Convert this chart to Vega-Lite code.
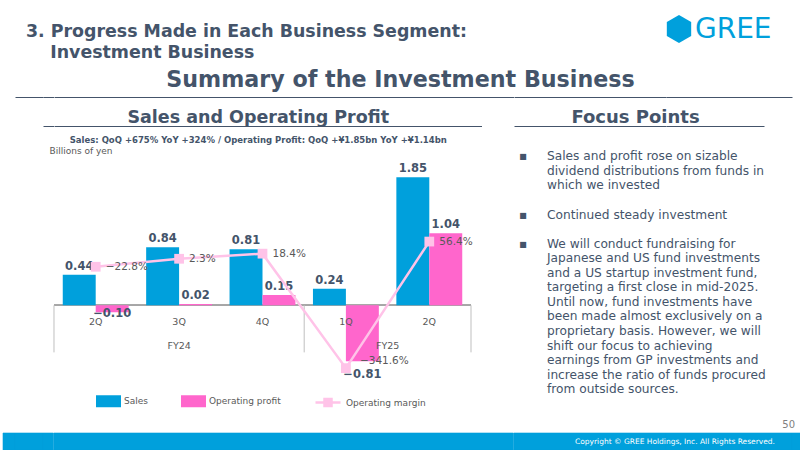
{
  "$schema": "https://vega.github.io/schema/vega-lite/v6.json",
  "background": "#ffffff",
  "padding": 0,
  "config": {"view": {"stroke": null}, "font": "DejaVu Sans"},
  "datasets": {
    "q": [
      {"period": "FY24 2Q", "quarter": "2Q", "fy": "FY24", "Sales": 0.44, "Operating profit": -0.10, "Operating margin": -0.228},
      {"period": "FY24 3Q", "quarter": "3Q", "fy": "FY24", "Sales": 0.84, "Operating profit": 0.02, "Operating margin": 0.023},
      {"period": "FY24 4Q", "quarter": "4Q", "fy": "FY24", "Sales": 0.81, "Operating profit": 0.15, "Operating margin": 0.184},
      {"period": "FY25 1Q", "quarter": "1Q", "fy": "FY25", "Sales": 0.24, "Operating profit": -0.81, "Operating margin": -3.416},
      {"period": "FY25 2Q", "quarter": "2Q", "fy": "FY25", "Sales": 1.85, "Operating profit": 1.04, "Operating margin": 0.564}
    ],
    "blank": [{"v": 0}],
    "full": [{"v": 1}]
  },
  "columns": 7,
  "spacing": 0,
  "bounds": "flush",
  "align": "each",
  "concat": [
    {"width": 1, "height": 10, "data": {"name": "blank"}, "mark": {"type": "point", "opacity": 0}, "encoding": {"x": {"field": "v", "type": "quantitative", "axis": null}}},
    {
      "width": 28, "height": 62, "data": {"name": "blank"}, "mark": {"type": "point", "opacity": 0},
      "encoding": {"x": {"field": "v", "type": "quantitative", "axis": null}},
      "title": {
        "text": ["3. Progress Made in Each Business Segment:", "\u200b\u00a0\u00a0\u00a0\u00a0Investment Business"],
        "orient": "top", "offset": 0, "baseline": "top", "frame": "group", "anchor": "start",
        "dx": 11, "dy": 61.2, "lineHeight": 21,
        "font": "DejaVu Sans", "fontSize": 17.4, "fontWeight": "bold", "color": "#44546a"
      }
    },
    {"width": 1, "height": 10, "data": {"name": "blank"}, "mark": {"type": "point", "opacity": 0}, "encoding": {"x": {"field": "v", "type": "quantitative", "axis": null}}},
    {"width": 1, "height": 10, "data": {"name": "blank"}, "mark": {"type": "point", "opacity": 0}, "encoding": {"x": {"field": "v", "type": "quantitative", "axis": null}}},
    {"width": 1, "height": 10, "data": {"name": "blank"}, "mark": {"type": "point", "opacity": 0}, "encoding": {"x": {"field": "v", "type": "quantitative", "axis": null}}},
    {
      "width": 26, "height": 58, "data": {"name": "blank"},
      "mark": {"type": "point", "shape": "M0,-1L0.87,-0.5L0.87,0.5L0,1L-0.87,0.5L-0.87,-0.5Z", "size": 784, "filled": true, "opacity": 1, "color": "#00a0dc"},
      "encoding": {"x": {"field": "v", "type": "quantitative", "scale": {"domain": [-1, 1]}, "axis": null}},
      "title": {
        "text": "GREE",
        "orient": "top", "offset": 0, "baseline": "top", "frame": "group", "anchor": "start",
        "dx": 29, "dy": 44.2,
        "font": "DejaVu Sans", "fontSize": 28, "fontWeight": "normal", "color": "#00a0dc"
      }
    },
    {"width": 1, "height": 10, "data": {"name": "blank"}, "mark": {"type": "point", "opacity": 0}, "encoding": {"x": {"field": "v", "type": "quantitative", "axis": null}}},

    {"width": 1, "height": 10, "data": {"name": "blank"}, "mark": {"type": "point", "opacity": 0}, "encoding": {"x": {"field": "v", "type": "quantitative", "axis": null}}},
    {"width": 28, "height": 35, "data": {"name": "blank"}, "mark": {"type": "point", "opacity": 0}, "encoding": {"x": {"field": "v", "type": "quantitative", "scale": {"domain": [0, 1]}, "axis": {"title": null, "labels": false, "ticks": false, "grid": false, "domainColor": "#44546a", "domainWidth": 1}}}},
    {"width": 10.5, "height": 35, "data": {"name": "blank"}, "mark": {"type": "point", "opacity": 0}, "encoding": {"x": {"field": "v", "type": "quantitative", "scale": {"domain": [0, 1]}, "axis": {"title": null, "labels": false, "ticks": false, "grid": false, "domainColor": "#44546a", "domainWidth": 1}}}},
    {
      "width": 459.5, "height": 35, "data": {"name": "blank"}, "mark": {"type": "point", "opacity": 0},
      "encoding": {"x": {"field": "v", "type": "quantitative", "scale": {"domain": [0, 1]}, "axis": {"title": null, "labels": false, "ticks": false, "grid": false, "domainColor": "#44546a", "domainWidth": 1}}},
      "title": {
        "text": "Summary of the Investment Business",
        "orient": "top", "offset": 0, "baseline": "top", "frame": "group", "anchor": "middle",
        "dx": 116.75, "dy": 29.3,
        "font": "DejaVu Sans", "fontSize": 22.2, "fontWeight": "bold", "color": "#44546a"
      }
    },
    {"width": 152, "height": 35, "data": {"name": "blank"}, "mark": {"type": "point", "opacity": 0}, "encoding": {"x": {"field": "v", "type": "quantitative", "scale": {"domain": [0, 1]}, "axis": {"title": null, "labels": false, "ticks": false, "grid": false, "domainColor": "#44546a", "domainWidth": 1}}}},
    {"width": 126, "height": 35, "data": {"name": "blank"}, "mark": {"type": "point", "opacity": 0}, "encoding": {"x": {"field": "v", "type": "quantitative", "scale": {"domain": [0, 1]}, "axis": {"title": null, "labels": false, "ticks": false, "grid": false, "domainColor": "#44546a", "domainWidth": 1}}}},
    {"width": 1, "height": 10, "data": {"name": "blank"}, "mark": {"type": "point", "opacity": 0}, "encoding": {"x": {"field": "v", "type": "quantitative", "axis": null}}},

    {"width": 1, "height": 10, "data": {"name": "blank"}, "mark": {"type": "point", "opacity": 0}, "encoding": {"x": {"field": "v", "type": "quantitative", "axis": null}}},
    {"width": 1, "height": 10, "data": {"name": "blank"}, "mark": {"type": "point", "opacity": 0}, "encoding": {"x": {"field": "v", "type": "quantitative", "axis": null}}},
    {"width": 10.5, "height": 29, "data": {"name": "blank"}, "mark": {"type": "point", "opacity": 0}, "encoding": {"x": {"field": "v", "type": "quantitative", "scale": {"domain": [0, 1]}, "axis": {"title": null, "labels": false, "ticks": false, "grid": false, "domainColor": "#44546a", "domainWidth": 1}}}},
    {
      "width": 427.5, "height": 29, "data": {"name": "blank"}, "mark": {"type": "point", "opacity": 0},
      "encoding": {"x": {"field": "v", "type": "quantitative", "scale": {"domain": [0, 1]}, "axis": {"title": null, "labels": false, "ticks": false, "grid": false, "domainColor": "#44546a", "domainWidth": 1}}},
      "title": {
        "text": "Sales and Operating Profit",
        "subtitle": "Sales: QoQ +675% YoY +324% / Operating Profit: QoQ +¥1.85bn YoY +¥1.14bn",
        "orient": "top", "offset": 0, "baseline": "top", "frame": "group", "anchor": "middle",
        "dx": -9.5, "dy": 47.2,
        "font": "DejaVu Sans", "fontSize": 17.5, "fontWeight": "bold", "color": "#44546a",
        "subtitleFont": "DejaVu Sans", "subtitleFontSize": 8.5, "subtitleFontWeight": "bold",
        "subtitleColor": "#44546a", "subtitlePadding": 9.4
      }
    },
    {
      "width": 152, "height": 29, "data": {"name": "blank"}, "mark": {"type": "point", "opacity": 0},
      "encoding": {"x": {"field": "v", "type": "quantitative", "scale": {"domain": [0, 1]}, "axis": {"title": null, "labels": false, "ticks": false, "grid": false, "domainColor": "#44546a", "domainWidth": 1}}},
      "title": {
        "text": "Focus Points",
        "orient": "top", "offset": 0, "baseline": "top", "frame": "group", "anchor": "middle",
        "dx": 45.5, "dy": 29.8,
        "font": "DejaVu Sans", "fontSize": 18, "fontWeight": "bold", "color": "#44546a"
      }
    },
    {"width": 98, "height": 29, "data": {"name": "blank"}, "mark": {"type": "point", "opacity": 0}, "encoding": {"x": {"field": "v", "type": "quantitative", "scale": {"domain": [0, 1]}, "axis": {"title": null, "labels": false, "ticks": false, "grid": false, "domainColor": "#44546a", "domainWidth": 1}}}},
    {"width": 1, "height": 10, "data": {"name": "blank"}, "mark": {"type": "point", "opacity": 0}, "encoding": {"x": {"field": "v", "type": "quantitative", "axis": null}}},

    {"width": 1, "height": 10, "data": {"name": "blank"}, "mark": {"type": "point", "opacity": 0}, "encoding": {"x": {"field": "v", "type": "quantitative", "axis": null}}},
    {"width": 1, "height": 10, "data": {"name": "blank"}, "mark": {"type": "point", "opacity": 0}, "encoding": {"x": {"field": "v", "type": "quantitative", "axis": null}}},
    {"width": 1, "height": 10, "data": {"name": "blank"}, "mark": {"type": "point", "opacity": 0}, "encoding": {"x": {"field": "v", "type": "quantitative", "axis": null}}},
    {
      "width": 417, "height": 249,
      "data": {"name": "q"},
      "title": {
        "text": "Billions of yen",
        "orient": "top", "offset": 0, "baseline": "top", "frame": "group", "anchor": "start",
        "dx": -4.5, "dy": 29.9,
        "font": "DejaVu Sans", "fontSize": 9, "fontWeight": "normal", "color": "#595959"
      },
      "layer": [
        {
          "mark": {"type": "rule", "color": "#a6a6a6", "strokeWidth": 1.5},
          "encoding": {
            "y": {"datum": 0, "type": "quantitative", "scale": {"domain": [-1.007, 2.591], "nice": false, "zero": false}, "axis": null}
          }
        },
        {
          "transform": [{"filter": {"field": "period", "oneOf": ["FY24 2Q", "FY25 1Q"]}}],
          "mark": {"type": "rule", "color": "#bfbfbf", "strokeWidth": 1},
          "encoding": {
            "x": {"field": "period", "type": "nominal", "sort": null, "bandPosition": -0.133,
                  "scale": {"type": "band", "domain": ["FY24 2Q", "FY24 3Q", "FY24 4Q", "FY25 1Q", "FY25 2Q"], "paddingInner": 0.21, "paddingOuter": 0.105},
                  "axis": null},
            "y": {"datum": 0, "type": "quantitative", "scale": {"domain": [-1.007, 2.591], "nice": false, "zero": false}, "axis": null},
            "y2": {"datum": -0.68}
          }
        },
        {
          "transform": [{"filter": {"field": "period", "equal": "FY25 2Q"}}],
          "mark": {"type": "rule", "color": "#bfbfbf", "strokeWidth": 1},
          "encoding": {
            "x": {"field": "period", "type": "nominal", "sort": null, "bandPosition": 1.133, "axis": null},
            "y": {"datum": 0, "type": "quantitative", "scale": {"domain": [-1.007, 2.591], "nice": false, "zero": false}, "axis": null},
            "y2": {"datum": -0.68}
          }
        },
        {
          "transform": [{"fold": ["Sales", "Operating profit"], "as": ["series", "value"]}],
          "mark": {"type": "bar"},
          "encoding": {
            "x": {"field": "period", "type": "nominal", "sort": null, "axis": null},
            "xOffset": {"field": "series", "type": "nominal",
                        "scale": {"domain": ["Sales", "Operating profit"], "paddingInner": 0, "paddingOuter": 0}},
            "y": {"field": "value", "type": "quantitative", "scale": {"domain": [-1.007, 2.591], "nice": false, "zero": false}, "axis": null},
            "fill": {
              "field": "series", "type": "nominal",
              "scale": {"domain": ["Sales", "Operating profit"], "range": ["#00a0dc", "#ff66cc"]},
              "legend": {
                "orient": "none", "legendX": 93, "legendY": 388.5,
                "direction": "horizontal", "title": null,
                "padding": 0, "columnPadding": 33,
                "symbolSize": 625, "symbolType": "M-1,-0.48H1V0.48H-1Z", "symbolStrokeWidth": 0,
                "labelFont": "DejaVu Sans", "labelFontSize": 9, "labelColor": "#595959", "labelOffset": 3
              }
            }
          }
        },
        {
          "transform": [{"fold": ["Sales", "Operating profit"], "as": ["series", "value"]}, {"filter": "datum.series === 'Sales' || datum.value >= 0"}],
          "mark": {"type": "text", "baseline": "bottom", "dy": -3, "font": "DejaVu Sans", "fontSize": 11.5, "fontWeight": "bold", "color": "#44546a"},
          "encoding": {
            "x": {"field": "period", "type": "nominal", "sort": null, "axis": null},
            "xOffset": {"field": "series", "type": "nominal"},
            "y": {"field": "value", "type": "quantitative", "scale": {"domain": [-1.007, 2.591], "nice": false, "zero": false}, "axis": null},
            "text": {"field": "value", "type": "quantitative", "format": ".2f"}
          }
        },
        {
          "transform": [{"fold": ["Sales", "Operating profit"], "as": ["series", "value"]}, {"filter": "datum.series === 'Operating profit' && datum.value < 0 && datum.value > -0.5"}],
          "mark": {"type": "text", "baseline": "top", "dy": -4, "font": "DejaVu Sans", "fontSize": 11.5, "fontWeight": "bold", "color": "#44546a"},
          "encoding": {
            "x": {"field": "period", "type": "nominal", "sort": null, "axis": null},
            "xOffset": {"field": "series", "type": "nominal"},
            "y": {"field": "value", "type": "quantitative", "scale": {"domain": [-1.007, 2.591], "nice": false, "zero": false}, "axis": null},
            "text": {"field": "value", "type": "quantitative", "format": ".2f"}
          }
        },
        {
          "transform": [{"fold": ["Sales", "Operating profit"], "as": ["series", "value"]}, {"filter": "datum.series === 'Operating profit' && datum.value <= -0.5"}],
          "mark": {"type": "text", "baseline": "top", "dy": 8, "font": "DejaVu Sans", "fontSize": 11.5, "fontWeight": "bold", "color": "#44546a"},
          "encoding": {
            "x": {"field": "period", "type": "nominal", "sort": null, "axis": null},
            "xOffset": {"field": "series", "type": "nominal"},
            "y": {"field": "value", "type": "quantitative", "scale": {"domain": [-1.007, 2.591], "nice": false, "zero": false}, "axis": null},
            "text": {"field": "value", "type": "quantitative", "format": ".2f"}
          }
        },
        {
          "mark": {"type": "text", "baseline": "alphabetic", "dy": 20, "font": "DejaVu Sans", "fontSize": 9.5, "color": "#595959"},
          "encoding": {
            "x": {"field": "period", "type": "nominal", "sort": null, "axis": null},
            "y": {"datum": 0, "type": "quantitative", "scale": {"domain": [-1.007, 2.591], "nice": false, "zero": false}, "axis": null},
            "text": {"field": "quarter", "type": "nominal"}
          }
        },
        {
          "transform": [{"filter": {"field": "period", "equal": "FY24 3Q"}}],
          "mark": {"type": "text", "baseline": "alphabetic", "dy": 44, "font": "DejaVu Sans", "fontSize": 9.5, "color": "#595959"},
          "encoding": {
            "x": {"field": "period", "type": "nominal", "sort": null, "axis": null},
            "y": {"datum": 0, "type": "quantitative", "scale": {"domain": [-1.007, 2.591], "nice": false, "zero": false}, "axis": null},
            "text": {"field": "fy", "type": "nominal"}
          }
        },
        {
          "transform": [{"filter": {"field": "period", "equal": "FY25 1Q"}}],
          "mark": {"type": "text", "baseline": "alphabetic", "dy": 44, "dx": 41.7, "font": "DejaVu Sans", "fontSize": 9.5, "color": "#595959"},
          "encoding": {
            "x": {"field": "period", "type": "nominal", "sort": null, "axis": null},
            "y": {"datum": 0, "type": "quantitative", "scale": {"domain": [-1.007, 2.591], "nice": false, "zero": false}, "axis": null},
            "text": {"field": "fy", "type": "nominal"}
          }
        },
        {
          "transform": [{"fold": ["Operating margin"], "as": ["series", "m"]}],
          "mark": {"type": "line", "strokeWidth": 2.5},
          "encoding": {
            "x": {"field": "period", "type": "nominal", "sort": null, "axis": null},
            "y": {"field": "m", "type": "quantitative", "scale": {"domain": [-3.632, 4.198], "nice": false, "zero": false}, "axis": null},
            "stroke": {
              "field": "series", "type": "nominal",
              "scale": {"domain": ["Operating margin"], "range": ["#ffc3e8"]},
              "legend": {
                "orient": "none", "legendX": 311, "legendY": 388.5,
                "direction": "horizontal", "title": null, "padding": 0,
                "symbolSize": 625, "symbolType": "M-1,0H1M-0.28,-0.28H0.28V0.28H-0.28Z",
                "symbolStrokeWidth": 2.5, "symbolFillColor": "#ffc3e8",
                "labelFont": "DejaVu Sans", "labelFontSize": 9, "labelColor": "#595959", "labelOffset": 4
              }
            }
          }
        },
        {
          "mark": {"type": "point", "shape": "square", "filled": true, "size": 95, "opacity": 1, "color": "#ffc3e8"},
          "encoding": {
            "x": {"field": "period", "type": "nominal", "sort": null, "axis": null},
            "y": {"field": "Operating margin", "type": "quantitative", "scale": {"domain": [-3.632, 4.198], "nice": false, "zero": false}, "axis": null}
          }
        },
        {
          "transform": [{"filter": "datum['Operating margin'] > -1"}],
          "mark": {"type": "text", "align": "left", "baseline": "middle", "dx": 10, "font": "DejaVu Sans", "fontSize": 10.5, "color": "#595959"},
          "encoding": {
            "x": {"field": "period", "type": "nominal", "sort": null, "axis": null},
            "y": {"field": "Operating margin", "type": "quantitative", "scale": {"domain": [-3.632, 4.198], "nice": false, "zero": false}, "axis": null},
            "text": {"field": "Operating margin", "type": "quantitative", "format": ".1%"}
          }
        },
        {
          "transform": [{"filter": "datum['Operating margin'] <= -1"}],
          "mark": {"type": "text", "align": "left", "baseline": "middle", "dx": 14, "dy": -7, "font": "DejaVu Sans", "fontSize": 10.5, "color": "#595959"},
          "encoding": {
            "x": {"field": "period", "type": "nominal", "sort": null, "axis": null},
            "y": {"field": "Operating margin", "type": "quantitative", "scale": {"domain": [-3.632, 4.198], "nice": false, "zero": false}, "axis": null},
            "text": {"field": "Operating margin", "type": "quantitative", "format": ".1%"}
          }
        }
      ],
      "resolve": {"scale": {"y": "independent"}}
    },
    {
      "width": 152, "height": 270, "data": {"name": "blank"}, "mark": {"type": "point", "opacity": 0},
      "encoding": {"x": {"field": "v", "type": "quantitative", "axis": null}},
      "title": {
        "text": ["▪", "\u200b", "\u200b", "\u200b", "▪", "\u200b", "▪"],
        "orient": "top", "offset": 0, "baseline": "top", "frame": "group", "anchor": "start",
        "dx": 5, "dy": 123.9, "lineHeight": 14.56,
        "font": "DejaVu Sans", "fontSize": 12.2, "fontWeight": "normal", "color": "#44546a"
      }
    },
    {
      "width": 126, "height": 270, "data": {"name": "blank"}, "mark": {"type": "point", "opacity": 0},
      "encoding": {"x": {"field": "v", "type": "quantitative", "axis": null}},
      "title": {
        "text": [
          "Sales and profit rose on sizable",
          "dividend distributions from funds in",
          "which we invested",
          "\u200b",
          "Continued steady investment",
          "\u200b",
          "We will conduct fundraising for",
          "Japanese and US fund investments",
          "and a US startup investment fund,",
          "targeting a first close in mid-2025.",
          "Until now, fund investments have",
          "been made almost exclusively on a",
          "proprietary basis. However, we will",
          "shift our focus to achieving",
          "earnings from GP investments and",
          "increase the ratio of funds procured",
          "from outside sources."
        ],
        "orient": "top", "offset": 0, "baseline": "top", "frame": "group", "anchor": "start",
        "dx": -119, "dy": 269.5, "lineHeight": 14.56,
        "font": "DejaVu Sans", "fontSize": 12.2, "fontWeight": "normal", "color": "#44546a"
      }
    },
    {"width": 1, "height": 10, "data": {"name": "blank"}, "mark": {"type": "point", "opacity": 0}, "encoding": {"x": {"field": "v", "type": "quantitative", "axis": null}}},

    {"width": 1, "height": 10, "data": {"name": "blank"}, "mark": {"type": "point", "opacity": 0}, "encoding": {"x": {"field": "v", "type": "quantitative", "axis": null}}},
    {"width": 1, "height": 10, "data": {"name": "blank"}, "mark": {"type": "point", "opacity": 0}, "encoding": {"x": {"field": "v", "type": "quantitative", "axis": null}}},
    {"width": 1, "height": 10, "data": {"name": "blank"}, "mark": {"type": "point", "opacity": 0}, "encoding": {"x": {"field": "v", "type": "quantitative", "axis": null}}},
    {"width": 1, "height": 10, "data": {"name": "blank"}, "mark": {"type": "point", "opacity": 0}, "encoding": {"x": {"field": "v", "type": "quantitative", "axis": null}}},
    {"width": 1, "height": 10, "data": {"name": "blank"}, "mark": {"type": "point", "opacity": 0}, "encoding": {"x": {"field": "v", "type": "quantitative", "axis": null}}},
    {"width": 1, "height": 10, "data": {"name": "blank"}, "mark": {"type": "point", "opacity": 0}, "encoding": {"x": {"field": "v", "type": "quantitative", "axis": null}}},
    {
      "width": 12, "height": 37, "data": {"name": "blank"}, "mark": {"type": "point", "opacity": 0},
      "encoding": {"x": {"field": "v", "type": "quantitative", "axis": null}},
      "title": {
        "text": "50",
        "orient": "top", "offset": 0, "baseline": "top", "frame": "group", "anchor": "end",
        "dx": -9, "dy": 34.1,
        "font": "DejaVu Sans", "fontSize": 10, "fontWeight": "normal", "color": "#7f7f7f"
      }
    },

    {"width": 12, "height": 17, "data": {"name": "full"}, "mark": {"type": "rect", "color": "#00a0dc", "stroke": "#00a0dc", "strokeWidth": 0.6}, "encoding": {"x": {"field": "v", "type": "quantitative", "axis": null, "scale": {"domain": [0, 1]}}, "x2": {"datum": 0}, "y": {"field": "v", "type": "quantitative", "axis": null, "scale": {"domain": [0, 1]}}, "y2": {"datum": 0}}},
    {"width": 28, "height": 17, "data": {"name": "full"}, "mark": {"type": "rect", "color": "#00a0dc", "stroke": "#00a0dc", "strokeWidth": 0.6}, "encoding": {"x": {"field": "v", "type": "quantitative", "axis": null, "scale": {"domain": [0, 1]}}, "x2": {"datum": 0}, "y": {"field": "v", "type": "quantitative", "axis": null, "scale": {"domain": [0, 1]}}, "y2": {"datum": 0}}},
    {"width": 10.5, "height": 17, "data": {"name": "full"}, "mark": {"type": "rect", "color": "#00a0dc", "stroke": "#00a0dc", "strokeWidth": 0.6}, "encoding": {"x": {"field": "v", "type": "quantitative", "axis": null, "scale": {"domain": [0, 1]}}, "x2": {"datum": 0}, "y": {"field": "v", "type": "quantitative", "axis": null, "scale": {"domain": [0, 1]}}, "y2": {"datum": 0}}},
    {"width": 459.5, "height": 17, "data": {"name": "full"}, "mark": {"type": "rect", "color": "#00a0dc", "stroke": "#00a0dc", "strokeWidth": 0.6}, "encoding": {"x": {"field": "v", "type": "quantitative", "axis": null, "scale": {"domain": [0, 1]}}, "x2": {"datum": 0}, "y": {"field": "v", "type": "quantitative", "axis": null, "scale": {"domain": [0, 1]}}, "y2": {"datum": 0}}},
    {"width": 152, "height": 17, "data": {"name": "full"}, "mark": {"type": "rect", "color": "#00a0dc", "stroke": "#00a0dc", "strokeWidth": 0.6}, "encoding": {"x": {"field": "v", "type": "quantitative", "axis": null, "scale": {"domain": [0, 1]}}, "x2": {"datum": 0}, "y": {"field": "v", "type": "quantitative", "axis": null, "scale": {"domain": [0, 1]}}, "y2": {"datum": 0}}},
    {"width": 126, "height": 17, "data": {"name": "full"}, "mark": {"type": "rect", "color": "#00a0dc", "stroke": "#00a0dc", "strokeWidth": 0.6}, "encoding": {"x": {"field": "v", "type": "quantitative", "axis": null, "scale": {"domain": [0, 1]}}, "x2": {"datum": 0}, "y": {"field": "v", "type": "quantitative", "axis": null, "scale": {"domain": [0, 1]}}, "y2": {"datum": 0}}},
    {
      "width": 12, "height": 17, "data": {"name": "full"},
      "mark": {"type": "rect", "color": "#00a0dc", "stroke": "#00a0dc", "strokeWidth": 0.6},
      "encoding": {"x": {"field": "v", "type": "quantitative", "axis": null, "scale": {"domain": [0, 1]}}, "x2": {"datum": 0}, "y": {"field": "v", "type": "quantitative", "axis": null, "scale": {"domain": [0, 1]}}, "y2": {"datum": 0}},
      "title": {
        "text": "Copyright © GREE Holdings, Inc. All Rights Reserved.",
        "orient": "top", "offset": 0, "baseline": "top", "frame": "group", "anchor": "end",
        "dx": -29, "dy": 13.1,
        "font": "DejaVu Sans", "fontSize": 7.5, "fontWeight": "normal", "color": "#ffffff"
      }
    }
  ]
}
